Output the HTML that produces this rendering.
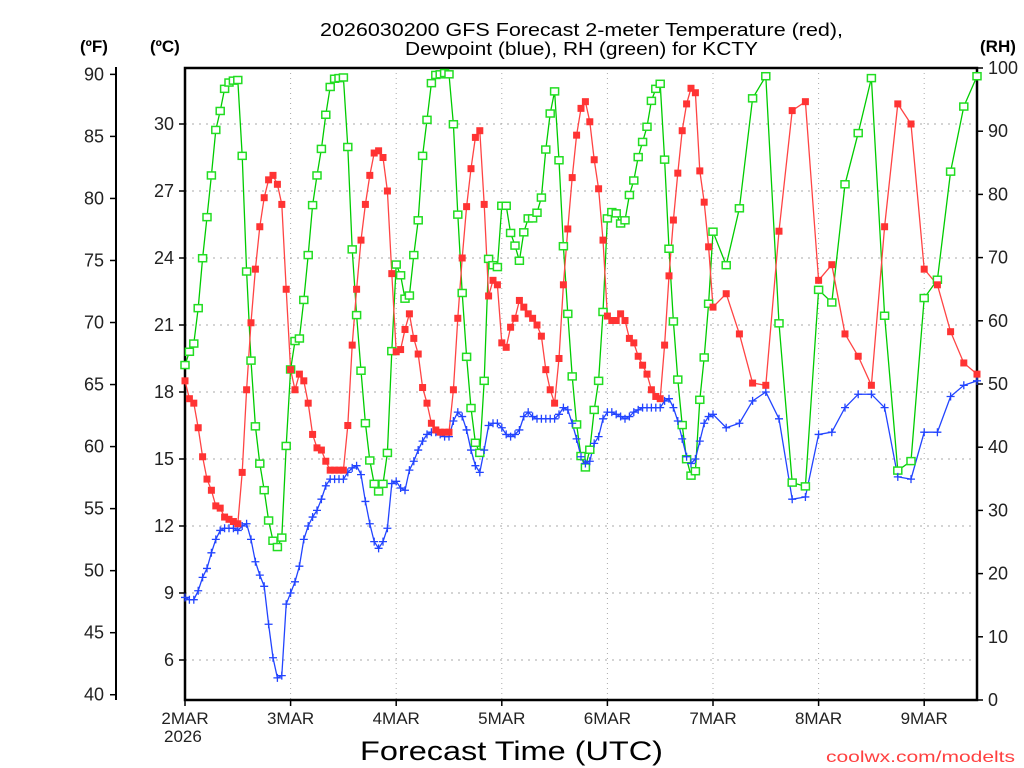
<!DOCTYPE html>
<html><head><meta charset="utf-8"><style>
html,body{margin:0;padding:0;background:#fff;}
svg{display:block;font-family:"Liberation Sans",sans-serif;}
</style></head><body>
<svg id="chart" width="1024" height="768" viewBox="0 0 1024 768" xmlns="http://www.w3.org/2000/svg">
<text x="320" y="36" font-size="18" textLength="523" lengthAdjust="spacingAndGlyphs">2026030200 GFS Forecast 2-meter Temperature (red),</text>
<text x="405" y="55" font-size="18" textLength="353" lengthAdjust="spacingAndGlyphs">Dewpoint (blue), RH (green) for KCTY</text>
<text x="80" y="52" font-size="17" font-weight="bold">(ºF)</text>
<text x="150" y="52" font-size="17" font-weight="bold">(ºC)</text>
<text x="980" y="52" font-size="17" font-weight="bold">(RH)</text>
<text x="360" y="760" font-size="27" textLength="303" lengthAdjust="spacingAndGlyphs">Forecast Time (UTC)</text>
<text x="826" y="762" font-size="16" fill="#ff4040" textLength="189" lengthAdjust="spacingAndGlyphs">coolwx.com/modelts</text>
<g id="grid"></g><g id="axes"></g><g id="series"></g>
</svg>
<script>
const tempC=[18.5,17.7,17.5,16.4,15.1,14.1,13.6,12.9,12.8,12.4,12.3,12.2,12.1,14.4,18.1,21.1,23.5,25.4,26.7,27.5,27.7,27.3,26.4,22.6,
19.0,18.1,18.8,18.5,17.5,16.1,15.5,15.4,14.9,14.5,14.5,14.5,14.5,16.5,20.1,22.6,24.8,26.4,27.7,28.7,28.8,28.5,27.0,23.3,
19.8,19.9,20.8,21.5,20.4,19.7,18.2,17.5,16.6,16.3,16.2,16.2,16.2,18.1,21.3,24.0,26.3,28.0,29.4,29.7,26.4,22.3,23.0,22.8,
20.2,20.0,20.9,21.3,22.1,21.8,21.5,21.3,21.0,20.5,19.0,18.1,17.5,19.5,22.8,25.3,27.6,29.5,30.7,31.0,30.1,28.4,27.1,24.8,
21.4,21.2,21.2,21.5,21.2,20.4,20.2,19.6,19.2,18.8,18.1,17.8,17.7,20.1,23.2,25.7,27.8,29.7,30.9,31.6,31.4,27.9,26.5,24.5,
21.8,22.4,20.6,18.4,18.3,25.2,30.6,31.0,23.0,23.7,20.6,19.6,18.3,25.4,30.9,30.0,23.5,22.8,20.7,19.3,18.8];
const dewC=[8.8,8.7,8.7,9.1,9.7,10.1,10.8,11.4,11.8,11.9,11.9,11.9,11.8,12.0,12.1,11.4,10.4,9.8,9.3,7.6,6.1,5.2,5.3,8.5,
9.0,9.5,10.2,11.4,12.0,12.4,12.7,13.2,13.8,14.1,14.1,14.1,14.1,14.4,14.6,14.7,14.3,13.1,12.1,11.3,11.0,11.3,11.9,13.9,
14.0,13.7,13.6,14.5,14.9,15.4,15.8,16.1,16.2,16.2,16.1,16.0,16.0,16.7,17.1,16.9,16.3,15.4,14.7,14.4,15.4,16.5,16.6,16.6,
16.4,16.1,16.0,16.1,16.3,16.9,17.1,16.9,16.8,16.8,16.8,16.8,16.8,17.0,17.3,17.2,16.6,15.9,15.1,14.8,14.9,15.7,16.0,16.8,
17.1,17.1,17.0,16.9,16.8,16.9,17.1,17.2,17.3,17.3,17.3,17.3,17.3,17.6,17.7,17.3,16.7,15.9,15.1,14.8,15.0,15.8,16.6,16.9,
17.0,16.4,16.6,17.6,18.0,16.8,13.2,13.3,16.1,16.2,17.3,17.9,17.9,17.3,14.2,14.1,16.2,16.2,17.8,18.3,18.5];
const rhPct=[53.0,55.1,56.4,62.0,69.9,76.4,83.0,90.2,93.2,96.7,97.7,98.0,98.1,86.1,67.8,53.7,43.3,37.4,33.2,28.4,25.2,24.2,25.7,40.2,
52.3,56.8,57.2,63.3,70.4,78.3,83.0,87.2,92.6,97.0,98.3,98.4,98.5,87.5,71.3,60.9,52.1,43.8,37.9,34.2,33.0,34.2,39.1,55.2,
68.9,67.2,63.5,64.0,70.4,75.9,86.1,91.8,97.6,98.9,99.0,99.2,99.0,91.1,76.8,64.4,54.3,46.2,40.7,39.1,50.5,69.8,68.8,68.5,
78.2,78.2,73.9,71.9,69.5,74.0,76.2,76.2,77.1,79.5,87.1,92.8,96.3,85.4,71.8,61.1,51.2,43.6,38.6,36.8,39.6,45.9,50.5,61.4,
76.2,77.2,77.0,75.4,75.9,79.9,82.2,85.9,88.3,90.7,94.8,96.7,97.5,85.5,71.4,59.9,50.7,43.5,38.1,35.5,36.2,47.5,54.2,62.7,
74.1,68.8,77.8,95.2,98.7,59.6,34.4,33.8,64.9,62.9,81.6,89.7,98.4,60.8,36.3,37.8,63.6,66.5,83.6,93.9,98.7];
const hours=[];for(let h=0;h<=120;h++)hours.push(h);for(let h=123;h<=180;h+=3)hours.push(h);
const dayLabels=["2MAR","3MAR","4MAR","5MAR","6MAR","7MAR","8MAR","9MAR"];
const cTicks=[6,9,12,15,18,21,24,27,30];
const fTicks=[40,45,50,55,60,65,70,75,80,85,90];
const rhTicks=[0,10,20,30,40,50,60,70,80,90,100];

const NS="http://www.w3.org/2000/svg";
const L=185,R=977,T=68,B=700;
const xS=h=>L+(h/180)*(R-L);
const yC=c=>124+(30-c)*22.333;
const yF=f=>yC((f-32)*5/9);
const yR=r=>B-r*(B-T)/100;
function mk(tag,attrs,parent){const e=document.createElementNS(NS,tag);for(const k in attrs)e.setAttribute(k,attrs[k]);parent.appendChild(e);return e;}
const grid=document.getElementById('grid'),axes=document.getElementById('axes'),series=document.getElementById('series');

cTicks.forEach(c=>{const y=yC(c);
 const g=mk('line',{x1:L,x2:R,y1:y,y2:y,stroke:'#aaa','stroke-width':1,'stroke-dasharray':'2,5'},grid);
 
 const t=mk('line',{x1:L-6,x2:L,y1:y,y2:y,stroke:'#000','stroke-width':1.5},axes);
 
 const tx=mk('text',{x:L-11,y:y+6,'font-size':18,'text-anchor':'end',fill:'#222'},axes);tx.textContent=c;
 });
dayLabels.forEach((d,i)=>{const x=xS(i*24);
 if(i>0){const g=mk('line',{x1:x,x2:x,y1:T,y2:B,stroke:'#aaa','stroke-width':1,'stroke-dasharray':'1,4'},grid);
 }
 const t=mk('line',{x1:x,x2:x,y1:B,y2:B+6,stroke:'#000','stroke-width':1.5},axes);
 
 const tx=mk('text',{x:x,y:724,'font-size':17,'text-anchor':'middle',fill:'#222'},axes);tx.textContent=d;
 });
const yr=mk('text',{x:164,y:742,'font-size':17,fill:'#222'},axes);yr.textContent='2026';


const fa=mk('line',{x1:116,x2:116,y1:67,y2:700,stroke:'#000','stroke-width':2},axes);

fTicks.forEach(f=>{const y=yF(f);
 const t=mk('line',{x1:110,x2:116,y1:y,y2:y,stroke:'#000','stroke-width':1.5},axes);
 
 const tx=mk('text',{x:104,y:y+6,'font-size':18,'text-anchor':'end',fill:'#222'},axes);tx.textContent=f;
 });
rhTicks.forEach(r=>{const y=yR(r);
 const t=mk('line',{x1:R,x2:R+6,y1:y,y2:y,stroke:'#000','stroke-width':1.5},axes);
 
 const tx=mk('text',{x:988,y:y+6,'font-size':18,fill:'#222'},axes);tx.textContent=r;
 });
const fr=mk('rect',{x:L,y:T,width:R-L,height:B-T,fill:'none',stroke:'#000','stroke-width':2.5},axes);


function line(vals,yf,col,name){const p=mk('polyline',{points:vals.map((v,i)=>xS(hours[i])+','+yf(v)).join(' '),fill:'none',stroke:col,'stroke-width':1.3},series);
 }
line(rhPct,yR,'#00cc00','rh-line');
line(dewC,yC,'#2244ff','dewpoint-line');
line(tempC,yC,'#ff4444','temperature-line');
rhPct.forEach((v,i)=>{const m=mk('rect',{x:xS(hours[i])-4,y:yR(v)-3.5,width:8,height:7,fill:'#fff',stroke:'#22dd22','stroke-width':1.5},series);
 });
dewC.forEach((v,i)=>{const x=xS(hours[i]),y=yC(v);
 const m=mk('path',{d:`M${x-4},${y}H${x+4}M${x},${y-4}V${y+4}`,stroke:'#2244ff','stroke-width':1.3},series);
 });
tempC.forEach((v,i)=>{const m=mk('rect',{x:xS(hours[i])-3.5,y:yC(v)-3.5,width:7,height:7,fill:'#ff3333'},series);
 });
</script>
</body></html>
